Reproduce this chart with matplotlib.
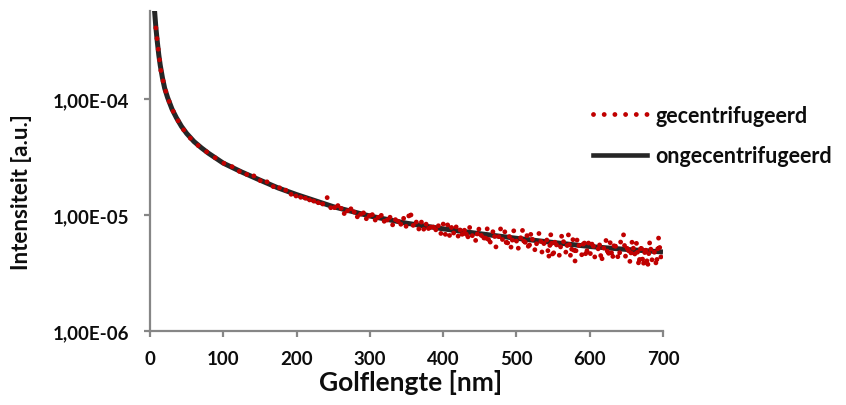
import numpy as np
import matplotlib
matplotlib.use("Agg")
import matplotlib.pyplot as plt
from matplotlib.lines import Line2D
from matplotlib.ticker import FixedLocator, FixedFormatter, NullLocator

plt.rcParams['font.family'] = ['Lato', 'DejaVu Sans']

# --- data -------------------------------------------------------------
# wavelength [nm] and intensity [1e-6 a.u.] of the non-centrifuged sample
wl_onge = [5, 6, 8, 10, 12, 14, 17, 20, 24, 30, 36, 43, 50, 60, 70, 80, 100,
           125, 150, 175, 200, 250, 300, 350, 400, 450, 500, 550, 600, 650, 700]
int_onge_e6 = [700, 600, 414, 310, 240, 195, 152, 124, 103, 82, 69, 58, 50.5,
               43, 38, 34, 28, 23.5, 20.0, 17.1, 15.0, 11.8, 9.8, 8.5, 7.6,
               6.9, 6.3, 5.8, 5.35, 5.05, 4.8]

# wavelength [nm] and intensity [1e-6 a.u.] of the centrifuged sample
wl_gec = [8, 10, 15, 20, 25, 30, 35, 40, 45, 50, 55, 60, 65, 70, 75, 80, 85,
          90, 95] + list(range(100, 701, 3))
int_gec_e6 = [
    # 8 .. 95 nm
    410, 312, 172, 125, 99, 83, 70, 62.5, 55, 51,
    46, 43.5, 40, 38.3, 35.6, 34.4, 31.8, 31.0, 28.8,
    # 100 .. 127 nm
    28.3, 27.0, 27.3, 25.7, 26.1, 24.6, 25.1, 23.6, 24.2, 22.8,
    # 130 .. 157 nm
    23.4, 21.9, 22.5, 21.0, 21.8, 20.3, 21.0, 19.5, 20.2, 18.7,
    # 160 .. 187 nm
    19.4, 18.0, 18.6, 17.2, 18.0, 16.7, 17.5, 16.2, 16.9, 15.6,
    # 190 .. 217 nm
    16.4, 14.9, 16.0, 14.5, 15.6, 14.0, 15.1, 13.6, 14.8, 13.2,
    # 220 .. 247 nm
    14.5, 13.0, 14.1, 12.6, 13.6, 12.2, 13.3, 14.6, 12.8, 11.4,
    # 250 .. 277 nm
    12.6, 10.9, 12.3, 10.6, 12.0, 10.3, 11.7, 10.1, 11.4, 9.9,
    # 280 .. 307 nm
    11.2, 9.6, 10.9, 9.3, 10.8, 9.2, 10.6, 9.0, 10.4, 8.9,
    # 310 .. 337 nm
    10.3, 8.8, 10.1, 8.6, 9.9, 8.4, 9.8, 8.2, 9.6, 8.1,
    # 340 .. 367 nm
    9.5, 8.0, 9.4, 7.8, 9.2, 11.0, 8.5, 7.6, 9.0, 7.5,
    # 370 .. 397 nm
    8.9, 7.3, 8.8, 7.2, 8.6, 7.1, 8.5, 7.0, 8.3, 6.9,
    # 400 .. 427 nm
    8.4, 6.8, 8.3, 6.5, 8.2, 6.7, 8.0, 6.3, 7.9, 6.4,
    # 430 .. 457 nm
    7.9, 6.0, 7.9, 6.5, 7.0, 5.8, 8.0, 6.4, 7.2, 5.7,
    # 460 .. 487 nm
    7.7, 5.4, 6.5, 7.6, 5.3, 5.9, 7.8, 6.1, 7.3, 5.2,
    # 490 .. 517 nm
    6.8, 5.1, 7.4, 6.6, 5.0, 6.0, 7.6, 5.3, 6.9, 4.9,
    # 520 .. 547 nm
    7.2, 5.6, 4.8, 6.7, 7.1, 4.7, 5.9, 6.5, 4.2, 6.9,
    # 550 .. 577 nm
    4.2, 6.3, 5.0, 4.4, 6.9, 5.6, 4.6, 6.8, 4.3, 6.2,
    # 580 .. 607 nm
    4.0, 6.4, 5.2, 4.5, 6.3, 4.3, 5.9, 4.6, 6.1, 4.3,
    # 610 .. 637 nm
    4.4, 5.9, 3.9, 5.1, 6.2, 4.3, 5.8, 4.1, 6.0, 4.6,
    # 640 .. 667 nm
    4.1, 6.7, 6.9, 4.3, 5.6, 3.9, 6.1, 4.4, 5.8, 3.6,
    # 670 .. 700 nm
    5.7, 3.6, 5.4, 3.5, 6.0, 4.1, 4.9, 3.6, 6.4, 4.3, 5.2,
]

x_ticks = [0, 100, 200, 300, 400, 500, 600, 700]
y_ticks = [1e-6, 1e-5, 1e-4]
y_tick_labels = ["1,00E-06", "1,00E-05", "1,00E-04"]

label_gec = "gecentrifugeerd"
label_onge = "ongecentrifugeerd"
x_title = "Golflengte [nm]"
y_title = "Intensiteit [a.u.]"

# --- figure -----------------------------------------------------------
W, H = 846, 406
fig = plt.figure(figsize=(W / 100, H / 100), dpi=100)
ax = fig.add_axes([150 / W, 1 - 332 / H, (663 - 150) / W, (332 - 12) / H])

red = "#C00000"
dark = "#262626"
axis_grey = "#868686"
text_col = "#0d0d0d"

onge = np.array(int_onge_e6) * 1e-6
gec = np.array(int_gec_e6) * 1e-6

dot_style = (0, (0.001, 2.2))
ax.plot(wl_onge, onge, color=dark, lw=3.6, solid_capstyle="butt", zorder=2)
ax.plot(wl_gec, gec, color=red, lw=3.5, linestyle=dot_style,
        dash_capstyle="round", zorder=3)

ax.set_yscale("log")
ax.set_xlim(0, 700)
ax.set_ylim(1e-6, 5.74e-4)

ax.xaxis.set_major_locator(FixedLocator(x_ticks))
ax.yaxis.set_major_locator(FixedLocator(y_ticks))
ax.yaxis.set_major_formatter(FixedFormatter(y_tick_labels))
ax.yaxis.set_minor_locator(NullLocator())

for s in ("top", "right"):
    ax.spines[s].set_visible(False)
for s in ("left", "bottom"):
    ax.spines[s].set_color(axis_grey)
    ax.spines[s].set_linewidth(1.6)

ax.tick_params(axis="both", which="major", direction="out", length=4,
               width=1.6, color=axis_grey, labelsize=13.5, labelcolor=text_col)
ax.tick_params(axis="y", pad=11)
ax.tick_params(axis="x", pad=10)
for lab in ax.get_xticklabels() + ax.get_yticklabels():
    lab.set_fontweight("bold")

fig.text(411 / W, 1 - 383 / H, x_title, fontsize=19, fontweight="bold",
         color=text_col, ha="center", va="center")
fig.text(21 / W, 1 - 192 / H, y_title, fontsize=16, fontweight="bold",
         color=text_col, ha="center", va="center", rotation=90)

handles = [
    Line2D([], [], color=red, lw=3.5, linestyle=dot_style, dash_capstyle="round"),
    Line2D([], [], color=dark, lw=3.3),
]
fig.legend(handles, [label_gec, label_onge], loc="upper left",
           bbox_to_anchor=(593 / W, 1 - 106 / H), frameon=False,
           prop={"size": 15.5, "weight": "bold"}, handlelength=2.5,
           handletextpad=0.4, labelspacing=0.9, borderpad=0,
           borderaxespad=0, labelcolor=text_col)

fig.savefig("out.png", dpi=100)
